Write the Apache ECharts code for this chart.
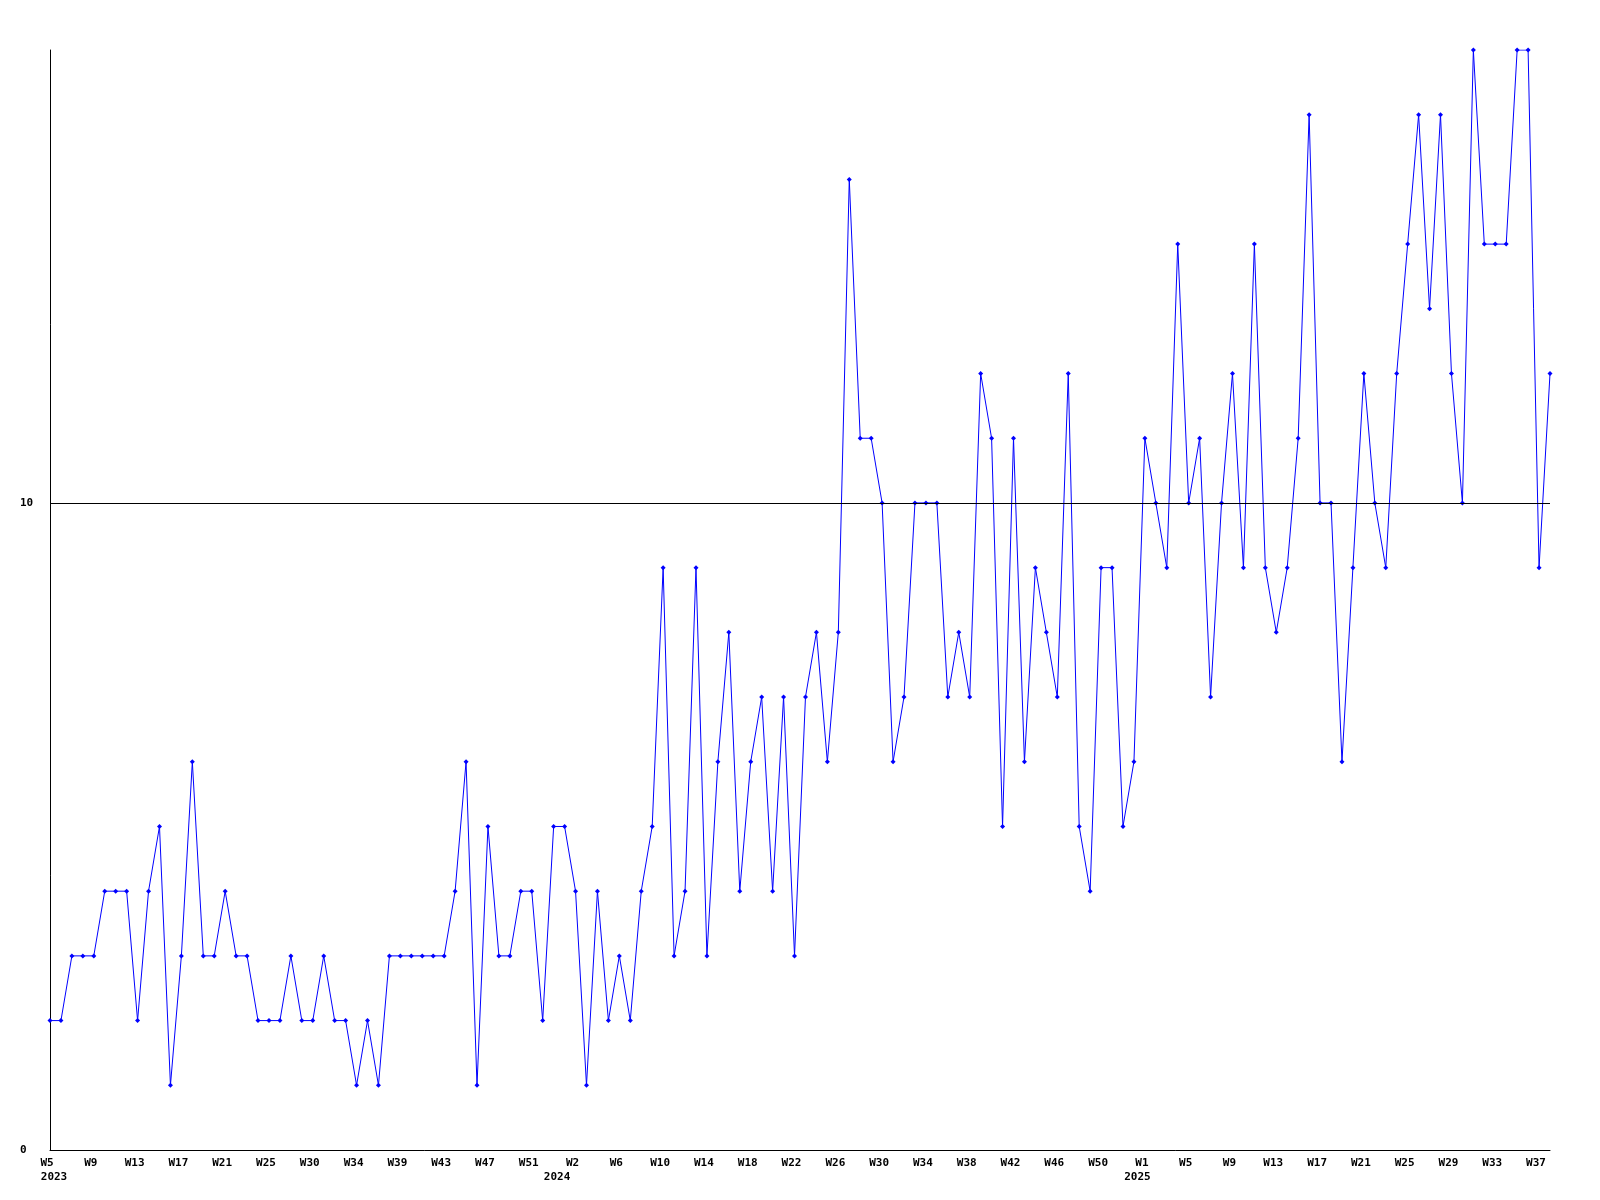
<!DOCTYPE html>
<html>
<head>
<meta charset="utf-8">
<script src="https://cdn.jsdelivr.net/npm/echarts@6/dist/echarts.min.js"></script>
<style>
html,body{margin:0;padding:0;background:#fff;}
#chart{width:1600px;height:1200px;}
</style>
</head>
<body>
<div id="chart"></div>
<script>
// one value per data point (weekly)
const values = [
  2,2,3,3,3,4,4,4,2,4,
  5,1,3,6,3,3,4,3,3,2,
  2,2,3,2,2,3,2,2,1,2,
  1,3,3,3,3,3,3,4,6,1,
  5,3,3,4,4,2,5,5,4,1,
  4,2,3,2,4,5,9,3,4,9,
  3,6,8,4,6,7,4,7,3,7,
  8,6,8,15,11,11,10,6,7,10,
  10,10,7,8,7,12,11,5,11,6,
  9,8,7,12,5,4,9,9,5,6,
  11,10,9,14,10,11,7,10,12,9,
  14,9,8,9,11,16,10,10,6,9,
  12,10,9,12,14,16,13,16,12,10,
  17,14,14,14,17,17,9,12
];
// tick labels, one on every 4th point
const weekLabels = ['W5','W9','W13','W17','W21','W25','W30','W34','W39','W43','W47','W51',
  'W2','W6','W10','W14','W18','W22','W26','W30','W34','W38','W42','W46','W50',
  'W1','W5','W9','W13','W17','W21','W25','W29','W33','W37'];
// year label under a given week label (index into weekLabels)
const yearLabels = {0:'2023', 12:'2024', 25:'2025'};
const yTickLabels = [0, 10];

const categories = values.map((v, i) => String(i));

const chart = echarts.init(document.getElementById('chart'), null, {renderer:'canvas'});
const font = '"DejaVu Sans Mono", monospace';
const yearStyle = {0: 'ya', 12: 'yb', 25: 'yc'};
chart.setOption({
  animation: false,
  backgroundColor: '#ffffff',
  grid: {left: 50, right: 50, top: 50, bottom: 50},
  xAxis: {
    type: 'category',
    data: categories,
    boundaryGap: false,
    axisLine: {lineStyle: {color: '#000', width: 1}},
    axisTick: {show: false},
    splitLine: {show: false},
    axisLabel: {
      interval: 3,
      margin: 6,
      fontFamily: font,
      fontWeight: 'bold',
      fontSize: 11,
      lineHeight: 14,
      color: '#000',
      align: 'center',
      formatter: function (v, idx) {
        const k = idx / 4;
        const w = '{w|' + (weekLabels[k] || '') + '}';
        return yearLabels[k] ? w + '\n{' + yearStyle[k] + '|' + yearLabels[k] + '}' : w;
      },
      rich: {
        w: {fontFamily: font, fontWeight: 'bold', fontSize: 11, lineHeight: 14, color: '#000', padding: [0, 6, 0, 0]},
        ya: {fontFamily: font, fontWeight: 'bold', fontSize: 11, lineHeight: 14, color: '#000', padding: [0, 0, 0, 8]},
        yb: {fontFamily: font, fontWeight: 'bold', fontSize: 11, lineHeight: 14, color: '#000', padding: [0, 37, 0, 0]},
        yc: {fontFamily: font, fontWeight: 'bold', fontSize: 11, lineHeight: 14, color: '#000', padding: [0, 15, 0, 0]}
      }
    }
  },
  yAxis: {
    type: 'value',
    min: 0,
    max: 17,
    interval: 10,
    axisLine: {show: true, lineStyle: {color: '#000', width: 1}},
    axisTick: {show: false},
    splitLine: {show: false},
    axisLabel: {
      showMaxLabel: false,
      margin: 30,
      align: 'left',
      fontFamily: font,
      fontWeight: 'bold',
      fontSize: 11,
      color: '#000',
      formatter: function (v) { return yTickLabels.indexOf(v) >= 0 ? String(v) : ''; }
    }
  },
  series: [{
    type: 'line',
    data: values,
    symbol: 'diamond',
    symbolSize: 5,
    showAllSymbol: true,
    lineStyle: {color: '#0000ff', width: 1},
    itemStyle: {color: '#0000ff'},
    emphasis: {disabled: true},
    markLine: {
      silent: true,
      symbol: 'none',
      label: {show: false},
      lineStyle: {color: '#000', width: 1, type: 'solid'},
      data: [{yAxis: yTickLabels[1]}]
    }
  }]
});
</script>
</body>
</html>
